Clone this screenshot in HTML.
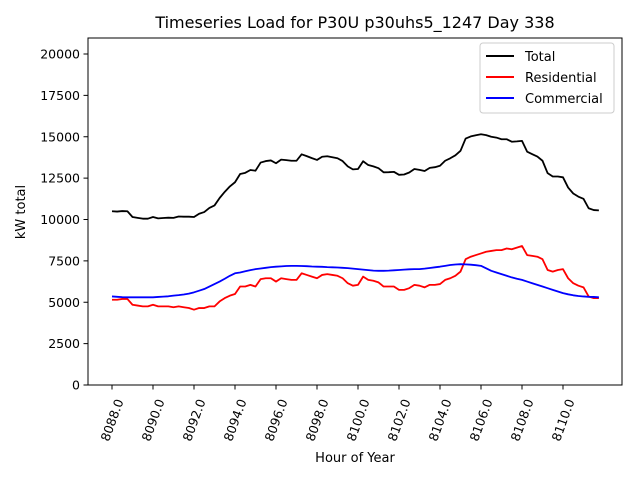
<!DOCTYPE html>
<html><head><meta charset="utf-8"><style>
html,body{margin:0;padding:0;background:#fff;}
svg{display:block;font-family:"DejaVu Sans","Liberation Sans",sans-serif;}
</style></head><body>
<svg id="chart" width="640" height="480" viewBox="0 0 640 480" xmlns="http://www.w3.org/2000/svg">
<rect width="640" height="480" fill="#fff"/>
<text x="355" y="28" font-size="16" text-anchor="middle">Timeseries Load for P30U p30uhs5_1247  Day 338</text>
<g id="grid"></g>
<g id="series"></g>
<rect x="88" y="38" width="534" height="347" fill="none" stroke="#000" stroke-width="1"/>
<g id="xaxis"></g>
<g id="yaxis"></g>
<text x="355" y="462" font-size="13" text-anchor="middle">Hour of Year</text>
<text transform="translate(25,212) rotate(-90)" font-size="13" text-anchor="middle">kW total</text>
<g>
<rect x="480" y="43" width="134" height="70" fill="#fff" fill-opacity="0.8" stroke="#ccc" rx="3"/>
<line x1="486" y1="56" x2="514" y2="56" stroke="#000" stroke-width="2"/>
<text x="525" y="61" font-size="13">Total</text>
<line x1="486" y1="77" x2="514" y2="77" stroke="#f00" stroke-width="2"/>
<text x="525" y="82" font-size="13">Residential</text>
<line x1="486" y1="98" x2="514" y2="98" stroke="#00f" stroke-width="2"/>
<text x="525" y="103" font-size="13">Commercial</text>
</g>
</svg>
<script>
const startHour = 8088;
const stepHours = 0.25;
const xTicks = [8088,8090,8092,8094,8096,8098,8100,8102,8104,8106,8108,8110];
const yTicks = [0,2500,5000,7500,10000,12500,15000,17500,20000];
const residential = [5150,5150,5200,5200,4850,4800,4750,4750,4850,4750,4750,4750,4700,4750,4700,4650,4550,4650,4650,4750,4750,5050,5250,5400,5500,5950,5950,6050,5950,6400,6450,6450,6250,6450,6400,6350,6350,6750,6650,6550,6450,6650,6700,6650,6600,6450,6150,6000,6050,6550,6350,6300,6200,5950,5950,5950,5750,5750,5850,6050,6000,5900,6050,6050,6100,6350,6450,6600,6850,7600,7750,7850,7950,8050,8100,8150,8150,8250,8200,8300,8400,7850,7800,7750,7600,6950,6850,6950,7000,6450,6150,6000,5900,5350,5250,5250];
const commercial = [5350,5330,5310,5300,5300,5300,5300,5300,5300,5320,5340,5360,5400,5430,5470,5520,5600,5700,5800,5950,6100,6250,6420,6600,6750,6800,6870,6940,7000,7040,7080,7120,7150,7170,7190,7200,7200,7190,7180,7160,7150,7140,7120,7110,7100,7080,7060,7030,7000,6970,6940,6910,6900,6900,6910,6930,6950,6970,6990,7000,7000,7030,7070,7110,7150,7200,7250,7280,7300,7290,7270,7240,7200,7050,6900,6800,6700,6600,6500,6420,6350,6250,6150,6050,5950,5850,5750,5650,5550,5480,5420,5380,5350,5330,5320,5300];
const total = [10500,10480,10510,10500,10150,10100,10050,10050,10150,10070,10090,10110,10100,10180,10170,10170,10150,10350,10450,10700,10850,11300,11670,12000,12250,12750,12820,12990,12950,13440,13530,13570,13400,13620,13590,13550,13550,13940,13830,13710,13600,13790,13820,13760,13700,13530,13210,13030,13050,13520,13290,13210,13100,12850,12860,12880,12700,12720,12840,13050,13000,12930,13120,13160,13250,13550,13700,13880,14150,14890,15020,15090,15150,15100,15000,14950,14850,14850,14700,14720,14750,14100,13950,13800,13550,12800,12600,12600,12550,11930,11570,11380,11250,10680,10570,10550];

const NS = "http://www.w3.org/2000/svg";
function xs(h){ return 112 + (h - 8088) * 20.5; }
function ys(v){ return 385 - v * 0.01655; }
function mk(tag, attrs, parent){
  const e = document.createElementNS(NS, tag);
  for (const k in attrs) e.setAttribute(k, attrs[k]);
  parent.appendChild(e);
  return e;
}
const xg = document.getElementById('xaxis');
xTicks.forEach(t => {
  const tk = mk('line', {x1: xs(t), x2: xs(t), y1: 385, y2: 389.5, stroke: '#000'}, xg);
  
  
  const lb = mk('text', {'font-size': 12.5, 'text-anchor': 'middle', 'dominant-baseline': 'central', transform: 'translate(' + xs(t) + ',420) rotate(-70)'}, xg);
  lb.textContent = t.toFixed(1);
  
  
});
const yg = document.getElementById('yaxis');
yTicks.forEach(t => {
  const tk = mk('line', {x1: 83.5, x2: 88, y1: ys(t), y2: ys(t), stroke: '#000'}, yg);
  
  
  const lb = mk('text', {x: 80, y: ys(t) + 4.5, 'font-size': 12.5, 'text-anchor': 'end'}, yg);
  lb.textContent = t;
  
  
});
const sg = document.getElementById('series');
function drawLine(arr, color, name){
  const pts = arr.map((v, i) => xs(startHour + i * stepHours).toFixed(2) + ',' + ys(v).toFixed(2)).join(' ');
  const pl = mk('polyline', {points: pts, fill: 'none', stroke: color, 'stroke-width': 1.8, 'stroke-linejoin': 'round'}, sg);
  
  
}
drawLine(total, '#000', 'total-line');
drawLine(residential, '#f00', 'residential-line');
drawLine(commercial, '#00f', 'commercial-line');
</script>
</body></html>
